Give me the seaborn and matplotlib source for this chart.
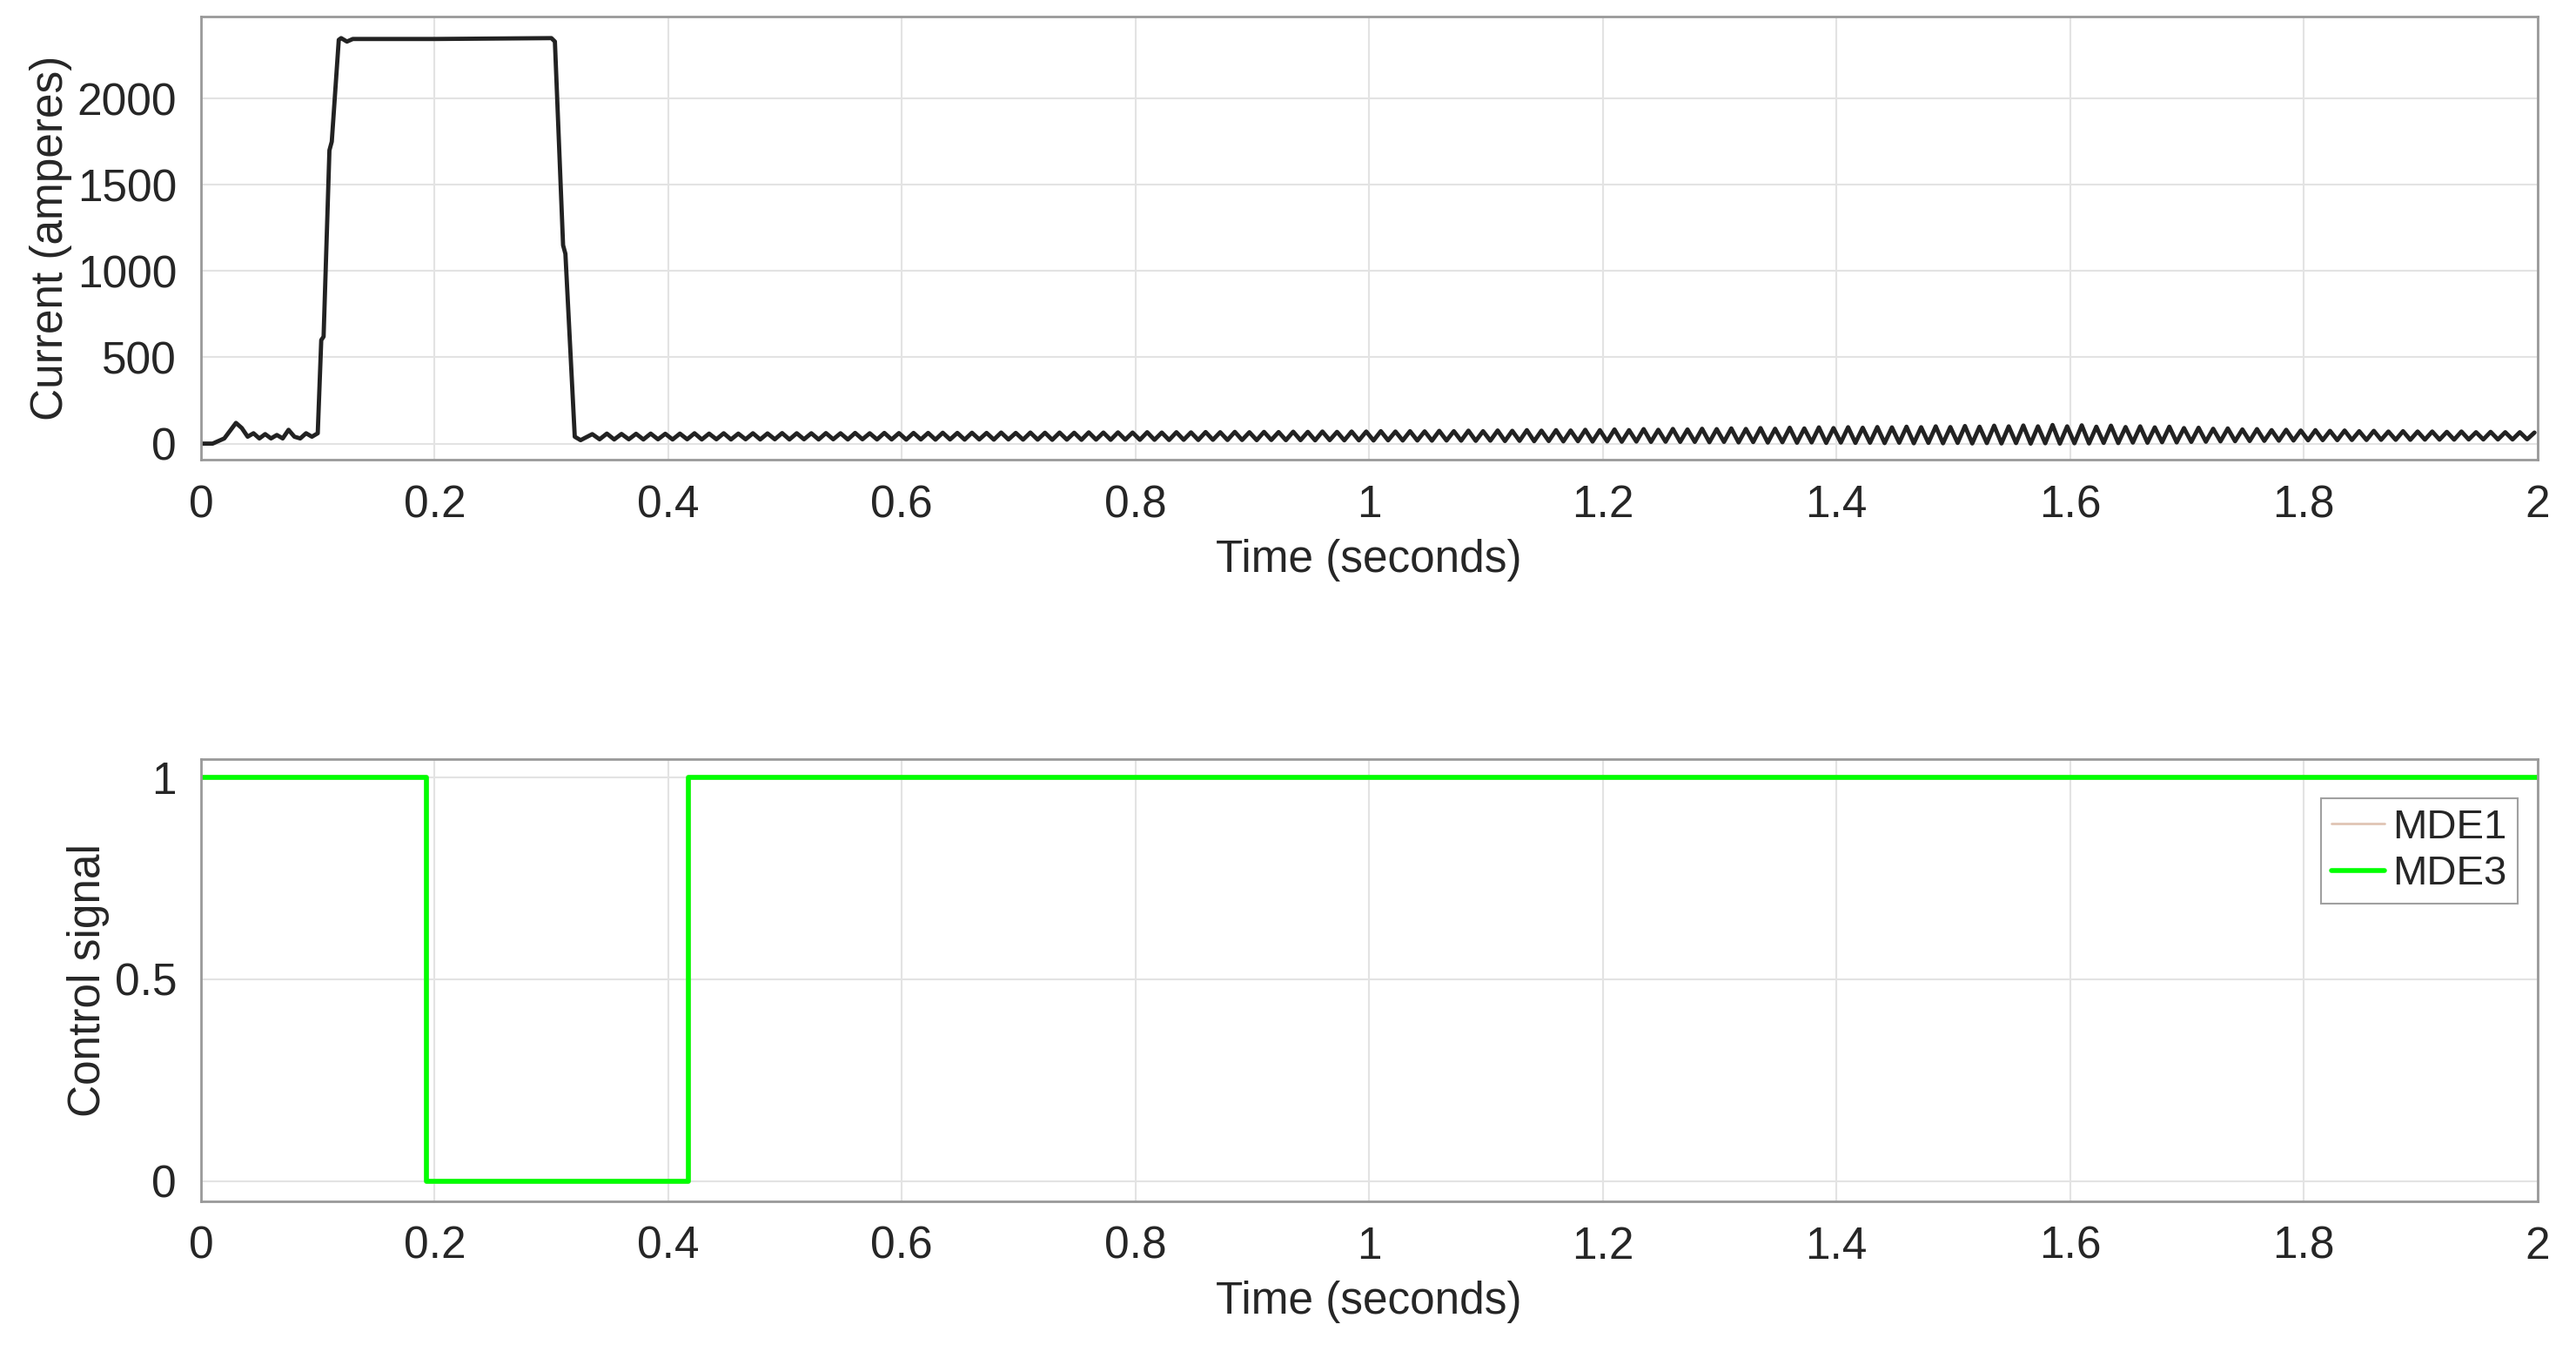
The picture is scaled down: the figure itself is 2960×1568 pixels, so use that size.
import numpy as np
import pandas as pd
import seaborn as sns
import matplotlib.pyplot as plt

# start-up and pulse of the current trace (t in s, A)
t_start = [0, 0.01, 0.02, 0.03, 0.035, 0.04, 0.045, 0.05, 0.055, 0.06, 0.065, 0.07, 0.075,
           0.08, 0.085, 0.09, 0.095, 0.1, 0.103, 0.105, 0.11, 0.112, 0.118, 0.12, 0.125,
           0.13, 0.2, 0.3, 0.303, 0.31, 0.312, 0.32, 0.325]
i_start = [0, 0, 30, 120, 90, 40, 60, 30, 55, 30, 50, 30, 80,
           40, 30, 60, 40, 60, 600, 620, 1700, 1750, 2340, 2350, 2330,
           2345, 2345, 2350, 2330, 1150, 1100, 40, 20]

# ripple after the pulse: one peak and one trough every 0.0125 s from 0.335 s
ripple_peaks = [
    55, 58, 56, 57, 58, 57, 58, 60, 58, 60,
    58, 60, 59, 61, 60, 60, 61, 60, 62, 60,
    62, 61, 62, 62, 63, 62, 63, 62, 64, 62,
    64, 63, 64, 63, 65, 64, 65, 64, 66, 64,
    66, 65, 67, 66, 68, 66, 68, 67, 69, 68,
    70, 68, 70, 70, 72, 70, 72, 71, 74, 72,
    75, 72, 76, 74, 78, 75, 78, 76, 80, 78,
    82, 78, 84, 80, 85, 82, 86, 84, 88, 85,
    90, 86, 92, 88, 94, 90, 95, 92, 96, 94,
    98, 95, 100, 96, 102, 98, 104, 100, 105, 100,
    108, 100, 106, 98, 104, 96, 100, 94, 98, 90,
    92, 86, 88, 82, 84, 78, 80, 76, 78, 74,
    76, 72, 74, 70, 72, 70, 70, 68, 70, 66,
    68, 66, 66, 64]
ripple_troughs = [
    25, 24, 25, 24, 25, 24, 25, 24, 25, 24,
    25, 24, 25, 24, 25, 24, 25, 24, 25, 24,
    24, 23, 24, 23, 24, 23, 24, 23, 24, 23,
    23, 22, 23, 22, 23, 22, 23, 22, 22, 21,
    22, 21, 22, 21, 21, 20, 21, 20, 20, 19,
    20, 19, 19, 18, 19, 18, 18, 17, 18, 17,
    16, 17, 15, 16, 14, 15, 13, 14, 12, 13,
    11, 12, 10, 11, 10, 10, 8, 10, 7, 9,
    6, 8, 5, 7, 4, 6, 4, 5, 3, 5,
    2, 4, 2, 4, 1, 3, 1, 3, 0, 2,
    0, 2, 1, 4, 3, 6, 5, 8, 7, 10,
    11, 13, 14, 15, 16, 17, 18, 19, 20, 20,
    21, 21, 22, 22, 22, 23, 23, 23, 24, 24,
    24, 24, 25, 25]

# control signals (step outline)
ctrl_t = [0, 0.193, 0.193, 0.417, 0.417, 2.0]
mde1 = [1, 1, 0, 0, 1, 1]
mde3 = [1, 1, 0, 0, 1, 1]

t_rip, i_rip = [], []
for k, (p, q) in enumerate(zip(ripple_peaks, ripple_troughs)):
    t_rip += [0.335 + k * 0.0125, 0.34125 + k * 0.0125]
    i_rip += [p, q]
cur = pd.DataFrame({"t": t_start + t_rip, "i": i_start + i_rip})
cur = cur[cur.t <= 2.0]
ctrl = pd.DataFrame({"t": ctrl_t * 2, "v": mde1 + mde3,
                     "sig": ["MDE1"] * len(mde1) + ["MDE3"] * len(mde3)})

sns.set_style("white")
plt.rcParams["font.family"] = ["Liberation Sans", "DejaVu Sans"]
plt.rcParams["font.size"] = 37

fig = plt.figure(figsize=(29.6, 15.68), dpi=100)
ax1 = fig.add_axes([0.078, 0.663, 0.907, 0.325])
ax2 = fig.add_axes([0.078, 0.12, 0.907, 0.324])

sns.lineplot(data=cur, x="t", y="i", ax=ax1, color="#222222", linewidth=3.5,
             sort=False, estimator=None)
ax1.set_ylim(-95, 2476)
ax1.set_yticks([0, 500, 1000, 1500, 2000])
ax1.set_ylabel("Current (amperes)", color="#262626")

sns.lineplot(data=ctrl, x="t", y="v", hue="sig", ax=ax2, sort=False, estimator=None,
             palette={"MDE1": "#e0c4b4", "MDE3": "#00ff00"},
             linewidth=4)
for ln in ax2.lines:
    if ln.get_label() == "MDE1":
        ln.set_linewidth(2)
ax2.set_ylim(-0.05, 1.045)
ax2.set_yticks([0, 0.5, 1])
ax2.set_yticklabels(["0", "0.5", "1"])
ax2.set_ylabel("Control signal", color="#262626")
leg = ax2.legend(loc="upper right", bbox_to_anchor=(0.995, 0.93), frameon=True,
                 fancybox=False, handlelength=1.3, handletextpad=0.2,
                 borderpad=0.25, borderaxespad=0.2, labelspacing=0.2, fontsize=34)
leg.get_frame().set_edgecolor("#888888")
leg.get_frame().set_linewidth(1.5)
for h in leg.get_lines():
    if h.get_label() == "MDE1":
        h.set_linewidth(2)

for ax in (ax1, ax2):
    ax.set_xlim(0, 2)
    ax.set_xticks(np.arange(0, 2.01, 0.2))
    ax.set_xticklabels(["0", "0.2", "0.4", "0.6", "0.8", "1", "1.2", "1.4", "1.6", "1.8", "2"])
    ax.set_xlabel("Time (seconds)", color="#262626", labelpad=10)
    ax.grid(True, color="#e3e3e3", linewidth=1.5)
    ax.tick_params(direction="out", length=10, width=1.5, color="#999999",
                   labelcolor="#262626", pad=10)
    for s in ax.spines.values():
        s.set_color("#999999")
        s.set_linewidth(2)

fig.savefig("out.png", dpi=100)
